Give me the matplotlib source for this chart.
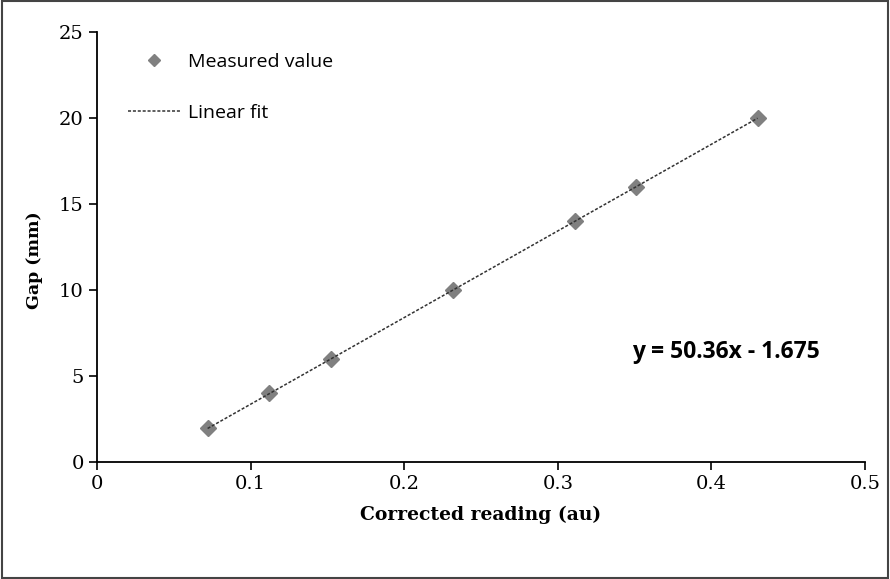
import numpy as np
import matplotlib
matplotlib.use("Agg")
from matplotlib import pyplot as plt

# measured data
reading = [0.072, 0.112, 0.152, 0.232, 0.311, 0.351, 0.430]
gap = [2, 4, 6, 10, 14, 16, 20]

# fit coefficients as printed on the chart
slope = 50.36
intercept = -1.675

fig = plt.figure(figsize=(8.9, 5.79), dpi=100)
ax = fig.add_axes([0.109, 0.202, 0.863, 0.743])

fit_x = np.array([reading[0], reading[-1]])
ax.plot(fit_x, slope * fit_x + intercept, color="#333333", linestyle=(0, (2, 1.2)),
        linewidth=1.1, label="Linear fit", zorder=3)
ax.plot(reading, gap, linestyle="none", marker="D", markersize=8, color="#808080",
        label="Measured value", zorder=2)

ax.set_xlim(0, 0.5)
ax.set_ylim(0, 25)
ax.set_xticks([0, 0.1, 0.2, 0.3, 0.4, 0.5])
ax.set_xticklabels(["0", "0.1", "0.2", "0.3", "0.4", "0.5"])
ax.set_yticks([0, 5, 10, 15, 20, 25])
for s in ["top", "right"]:
    ax.spines[s].set_visible(False)
for s in ["left", "bottom"]:
    ax.spines[s].set_linewidth(1.3)
ax.tick_params(direction="out", length=6, width=1.2, labelsize=14)
for lbl in ax.get_xticklabels() + ax.get_yticklabels():
    lbl.set_family("DejaVu Serif")

ax.set_xlabel("Corrected reading (au)", family="DejaVu Serif", fontweight="bold",
              fontsize=13.5, labelpad=9)
ax.set_ylabel("Gap (mm)", family="DejaVu Serif", fontweight="bold", fontsize=12.5)
ax.yaxis.set_label_coords(-0.07, 0.47)

ax.text(0.348, 6.4, "y = 50.36x - 1.675", family="Open Sans", fontweight="bold",
        fontsize=16.5, va="center", ha="left")

handles, labels = ax.get_legend_handles_labels()
ax.legend(handles[::-1], labels[::-1], loc="upper left", bbox_to_anchor=(0.017, 0.992),
          frameon=False, prop={"family": "Open Sans", "size": 14}, markerscale=0.8,
          labelspacing=1.7, handlelength=2.7, handletextpad=0.4)

fig.patches.append(plt.Rectangle((0.002, 0.002), 0.996, 0.996, transform=fig.transFigure,
                                 fill=False, edgecolor="#444444", linewidth=1.5))

fig.savefig("out.png", dpi=100)
